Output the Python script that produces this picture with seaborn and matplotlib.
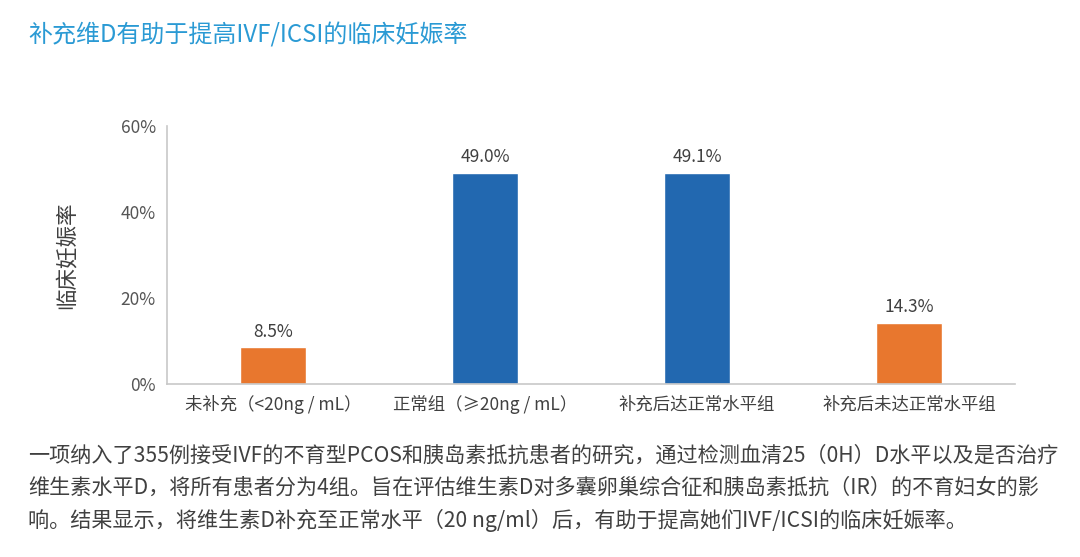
import numpy as np
import pandas as pd
import matplotlib
matplotlib.use("Agg")
import matplotlib.pyplot as plt
import seaborn as sns

# -------------------------------
# Data
# -------------------------------
groups = ["未补充（<20ng / mL）", "正常组（≥20ng / mL）", "补充后达正常水平组", "补充后未达正常水平组"]
rates = [8.5, 49.0, 49.1, 14.3]
bar_colors = ["#E8772E", "#2268B0", "#2268B0", "#E8772E"]
y_ticks = [0, 20, 40, 60]

title = "补充维D有助于提高IVF/ICSI的临床妊娠率"
y_label = "临床妊娠率"
note_lines = [
    "一项纳入了355例接受IVF的不育型PCOS和胰岛素抵抗患者的研究，通过检测血清25（0H）D水平以及是否治疗",
    "维生素水平D，将所有患者分为4组。旨在评估维生素D对多囊卵巢综合征和胰岛素抵抗（IR）的不育妇女的影",
    "响。结果显示，将维生素D补充至正常水平（20 ng/ml）后，有助于提高她们IVF/ICSI的临床妊娠率。",
]

df = pd.DataFrame({"group": groups, "rate": rates})

# -------------------------------
# Plot
# -------------------------------
sns.set_theme(style="white")
plt.rcParams['font.family'] = ['Noto Sans CJK SC', 'DejaVu Sans']

fig = plt.figure(figsize=(10.8, 5.57), dpi=100)
ax = fig.add_axes([0.1546, 0.3106, 0.7852, 0.4632])

sns.barplot(data=df, x="group", y="rate", hue="group", palette=bar_colors,
            width=0.31, legend=False, ax=ax, saturation=1)

for cont in ax.containers:
    ax.bar_label(cont, fmt="%.1f%%", padding=5, fontsize=12.5, color="#404040")

ax.set_xlim(-0.5, 3.5)
ax.set_ylim(0, 60)
ax.set_yticks(y_ticks)
ax.set_yticklabels([f"{t}%" for t in y_ticks], fontsize=12.5, color="#555555")
ax.tick_params(axis="x", labelsize=12.5, labelcolor="#404040", length=0, pad=8)
ax.tick_params(axis="y", length=0, pad=8)
ax.set_xlabel("")
ax.set_ylabel(y_label, fontsize=15.5, color="#404040", labelpad=31)

for s in ["top", "right"]:
    ax.spines[s].set_visible(False)
for s in ["left", "bottom"]:
    ax.spines[s].set_color("#C8C8C8")
    ax.spines[s].set_linewidth(1.2)
ax.grid(False)

fig.text(0.026, 0.937, title, fontsize=17.3, color="#2A9AD4", va="center", ha="left")

for i, line in enumerate(note_lines):
    fig.text(0.026, 0.183 - i * 0.059, line, fontsize=15.2, color="#404040",
             va="center", ha="left")

fig.savefig("out.png", dpi=100)
